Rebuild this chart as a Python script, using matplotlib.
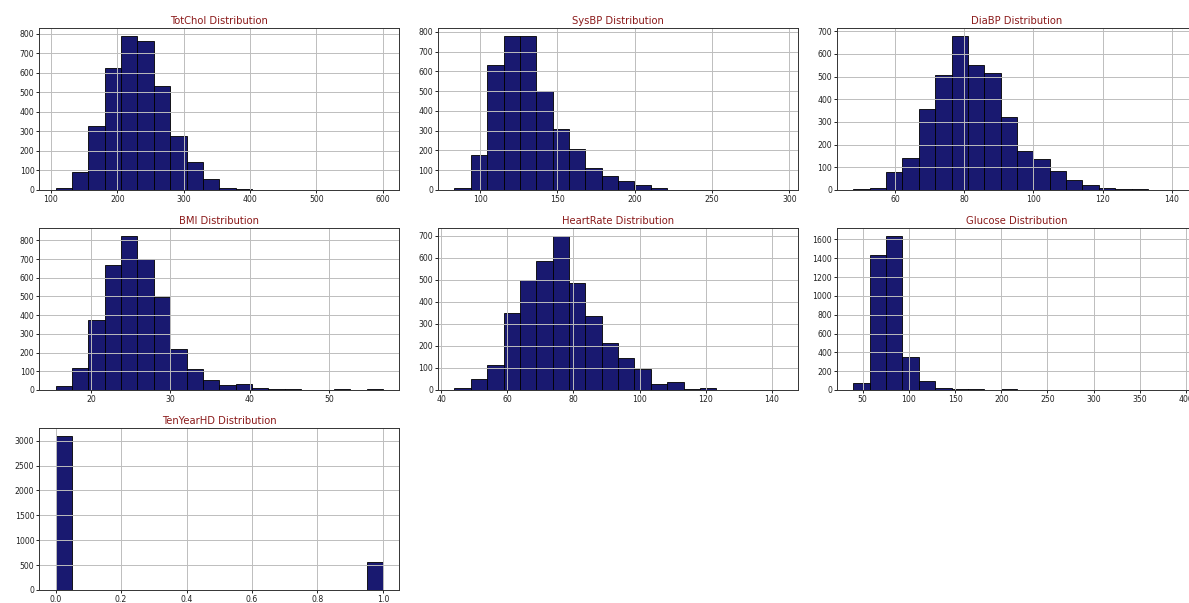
#!/usr/bin/env python3
# -*- coding: utf-8 -*-

"""
Grid of 20-bin histograms for the Framingham heart study variables.
"""

import matplotlib

matplotlib.use("Agg")

import matplotlib.pyplot as plt
import numpy as np
from matplotlib.ticker import MultipleLocator


# data range (min, max) and bin counts, 20 bins each
TOTCHOL_RANGE = (107.0, 600.0)
TOTCHOL_COUNTS = [8, 92, 330, 622, 790, 765, 530, 275, 143, 57,
                  12, 6, 2, 1, 1, 0, 0, 0, 0, 1]

SYSBP_RANGE = (83.5, 295.0)
SYSBP_COUNTS = [10, 175, 630, 780, 780, 500, 310, 205, 110, 70,
                45, 25, 8, 2, 1, 1, 0, 0, 1, 1]

DIABP_RANGE = (48.0, 142.5)
DIABP_COUNTS = [3, 10, 80, 140, 355, 505, 680, 550, 515, 320,
                170, 135, 85, 45, 20, 8, 3, 2, 0, 1]

BMI_RANGE = (15.54, 56.8)
BMI_COUNTS = [20, 120, 375, 670, 825, 700, 495, 220, 110, 55,
              25, 30, 8, 7, 3, 1, 1, 3, 0, 3]

HEARTRATE_RANGE = (44.0, 143.0)
HEARTRATE_COUNTS = [8, 50, 115, 350, 500, 585, 700, 485, 335, 215,
                    145, 95, 25, 35, 5, 8, 2, 2, 0, 2]

GLUCOSE_RANGE = (40.0, 394.0)
GLUCOSE_COUNTS = [70, 1430, 1640, 350, 95, 20, 8, 6, 4, 5,
                  3, 4, 3, 3, 2, 3, 1, 2, 3, 2]

TENYEARHD_RANGE = (0.0, 1.0)
TENYEARHD_COUNTS = [3099, 0, 0, 0, 0, 0, 0, 0, 0, 0,
                    0, 0, 0, 0, 0, 0, 0, 0, 0, 557]

PANELS = [
    ("TotChol", TOTCHOL_RANGE, TOTCHOL_COUNTS, 100, 100),
    ("SysBP", SYSBP_RANGE, SYSBP_COUNTS, 50, 100),
    ("DiaBP", DIABP_RANGE, DIABP_COUNTS, 20, 100),
    ("BMI", BMI_RANGE, BMI_COUNTS, 10, 100),
    ("HeartRate", HEARTRATE_RANGE, HEARTRATE_COUNTS, 20, 100),
    ("Glucose", GLUCOSE_RANGE, GLUCOSE_COUNTS, 50, 200),
    ("TenYearHD", TENYEARHD_RANGE, TENYEARHD_COUNTS, 0.2, 500),
]


def main() -> None:
    fig, axes = plt.subplots(3, 3, figsize=(11.89, 6.03), dpi=100)
    fig.subplots_adjust(left=0.033, right=1.0067, top=0.9536, bottom=0.0216,
                        wspace=0.108, hspace=0.235)

    for ax, (name, (lo, hi), counts, xstep, ystep) in zip(axes.flat, PANELS):
        edges = np.linspace(lo, hi, len(counts) + 1)
        ax.hist(edges[:-1], bins=edges, weights=counts,
                color="midnightblue", edgecolor="black", linewidth=0.6)
        ax.grid(True, color="#bdbdbd", linewidth=0.7)
        ax.xaxis.set_major_locator(MultipleLocator(xstep))
        ax.yaxis.set_major_locator(MultipleLocator(ystep))
        ax.tick_params(labelsize=5.6, length=2, width=0.6, pad=1.5,
                       labelcolor="#222222")
        ax.set_title(f"{name} Distribution", fontsize=7.2, color="#8b1a1a", pad=3)
        for spine in ax.spines.values():
            spine.set_linewidth(0.7)
            spine.set_color("#333333")

    for ax in axes.flat[len(PANELS):]:
        ax.remove()

    fig.savefig("out.png", dpi=100)
    plt.close(fig)


if __name__ == "__main__":
    main()
